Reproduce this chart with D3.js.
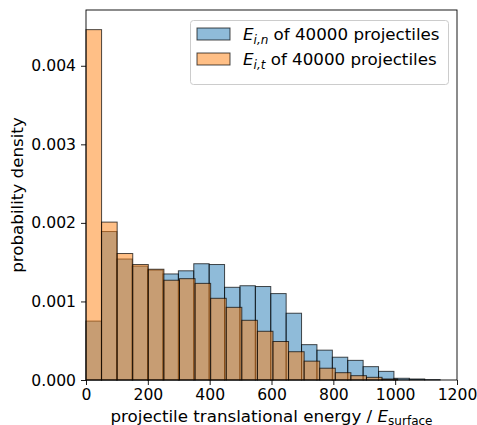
<!DOCTYPE html>
<html>
<head>
<meta charset="utf-8">
<script src="https://cdn.jsdelivr.net/npm/d3@7"></script>
<style>
  body { margin: 0; background: #fff; }
  svg { display: block; font-family: "DejaVu Sans", sans-serif; }
</style>
</head>
<body>
<svg id="chart" width="477" height="425"></svg>
<script>
// bin widths (the two series use slightly different edges)
var normalBinWidth = 49.8;
var tangBinWidth = 50.4;

// density of E_i,n per bin
var normalDensity = [0.00075, 0.00189, 0.00154, 0.00145, 0.00140, 0.00135, 0.00139,
  0.00148, 0.00147, 0.00118, 0.00120, 0.00119, 0.00110, 0.00085, 0.00045, 0.00038,
  0.00029, 0.00025, 0.00017, 0.00011, 0.000022, 0.000013, 0.000005];

// density of E_i,t per bin
var tangDensity = [0.00446, 0.00201, 0.00161, 0.00147, 0.00141, 0.00127, 0.00129,
  0.00123, 0.00104, 0.000925, 0.00076, 0.00062, 0.00049, 0.00036, 0.00024, 0.00015,
  0.000093, 0.000055, 0.000034, 0.000013];

var xTicks = [0, 200, 400, 600, 800, 1000, 1200];
var yTicks = [0, 0.001, 0.002, 0.003, 0.004];

var plotL = 86, plotR = 457, plotT = 10, plotB = 380;

var svg = d3.select('#chart');

var x = d3.scaleLinear().domain([0, 1200]).range([plotL, plotR]);
var y = d3.scaleLinear().domain([0, 0.00471]).range([plotB, plotT]);

function toBins(vals, w) {
  return vals.map(function (v, i) { return {x0: i * w, x1: (i + 1) * w, v: v}; });
}

function drawHist(bins, colour) {
  svg.append('g')
    .selectAll('rect')
    .data(bins)
    .enter()
    .append('rect')
    .attr('x', function (d) { return x(d.x0); })
    .attr('y', function (d) { return y(d.v); })
    .attr('width', function (d) { return x(d.x1) - x(d.x0); })
    .attr('height', function (d) { return y(0) - y(d.v); })
    .style('fill', colour)
    .style('fill-opacity', 0.5)
    .style('stroke', '#000')
    .style('stroke-opacity', 0.7)
    .style('stroke-width', 1);
}

drawHist(toBins(normalDensity, normalBinWidth), '#1f77b4');
drawHist(toBins(tangDensity, tangBinWidth), '#ff7f0e');

// axes
var xAxis = svg.append('g')
  .attr('transform', 'translate(0,' + plotB + ')')
  .call(d3.axisBottom(x).tickValues(xTicks).tickFormat(d3.format('d')).tickSize(5).tickPadding(4));
var yAxis = svg.append('g')
  .attr('transform', 'translate(' + plotL + ',0)')
  .call(d3.axisLeft(y).tickValues(yTicks).tickFormat(d3.format('.3f')).tickSize(5).tickPadding(5));

[xAxis, yAxis].forEach(function (a) {
  a.select('.domain').remove();
  a.selectAll('line').attr('stroke', '#000').attr('stroke-width', 0.9);
  a.selectAll('text').attr('fill', '#000').style('font-size', '15.6px')
    .style('font-family', '"DejaVu Sans", sans-serif');
});

// frame
svg.append('rect')
  .attr('x', plotL).attr('y', plotT)
  .attr('width', plotR - plotL).attr('height', plotB - plotT)
  .style('fill', 'none').style('stroke', '#000').style('stroke-width', 0.9);

// axis labels
var xl = svg.append('text')
  .attr('x', (plotL + plotR) / 2)
  .attr('y', 421.5)
  .attr('text-anchor', 'middle')
  .style('font-size', '16.7px');
xl.append('tspan').text('projectile translational energy / ');
xl.append('tspan').style('font-style', 'italic').text('E');
xl.append('tspan').attr('dy', 3).style('font-size', '12px').text('surface');

svg.append('text')
  .attr('transform', 'translate(23,' + ((plotT + plotB) / 2) + ') rotate(-90)')
  .attr('text-anchor', 'middle')
  .style('font-size', '16.7px')
  .text('probability density');

// legend
var legend = svg.append('g');
legend.append('rect')
  .attr('x', 190.5).attr('y', 20.5).attr('width', 258).attr('height', 64)
  .attr('rx', 3)
  .style('fill', '#fff').style('fill-opacity', 0.8)
  .style('stroke', '#ccc');

var legendItems = [
  {sub: 'i,n', colour: '#1f77b4'},
  {sub: 'i,t', colour: '#ff7f0e'}
];
legendItems.forEach(function (it, i) {
  var cy = 34 + i * 25;
  legend.append('rect')
    .attr('x', 197).attr('y', cy - 6).attr('width', 33).attr('height', 12)
    .style('fill', it.colour).style('fill-opacity', 0.5)
    .style('stroke', '#000').style('stroke-opacity', 0.7);
  var t = legend.append('text')
    .attr('x', 243).attr('y', cy + 6)
    .style('font-size', '16.7px');
  t.append('tspan').style('font-style', 'italic').text('E');
  t.append('tspan').attr('dy', 4).style('font-size', '12px').style('font-style', 'italic').text(it.sub);
  t.append('tspan').attr('dy', -4).text(' of 40000 projectiles');
});
</script>
</body>
</html>
